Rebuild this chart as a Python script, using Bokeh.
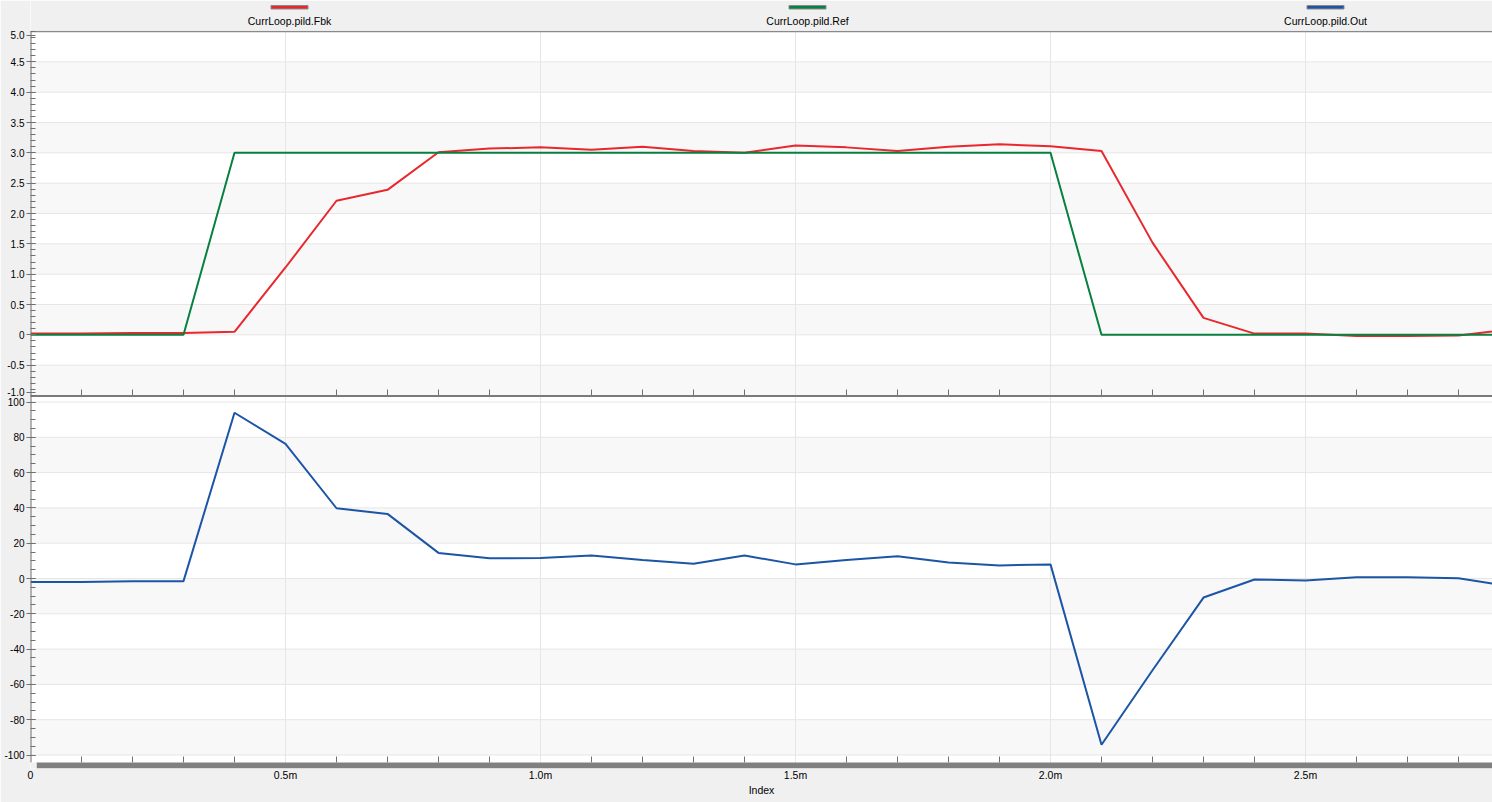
from bokeh.plotting import figure
from bokeh.models import Range1d, FixedTicker
from bokeh.core.properties import value
from bokeh.embed import file_html
from bokeh.resources import INLINE

# ---------------- data ----------------
index_ms = [0.0, 0.1, 0.2, 0.3, 0.4, 0.5, 0.6, 0.7, 0.8, 0.9,
            1.0, 1.1, 1.2, 1.3, 1.4, 1.5, 1.6, 1.7, 1.8, 1.9,
            2.0, 2.1, 2.2, 2.3, 2.4, 2.5, 2.6, 2.7, 2.8, 2.9]
fbk = [0.02, 0.02, 0.03, 0.03, 0.05, 1.11, 2.21, 2.39, 3.01, 3.07,
       3.09, 3.05, 3.10, 3.03, 3.00, 3.12, 3.09, 3.03, 3.10, 3.14,
       3.11, 3.03, 1.52, 0.28, 0.02, 0.02, -0.02, -0.02, -0.01, 0.09]
ref = [0.0, 0.0, 0.0, 0.0, 3.0, 3.0, 3.0, 3.0, 3.0, 3.0,
       3.0, 3.0, 3.0, 3.0, 3.0, 3.0, 3.0, 3.0, 3.0, 3.0,
       3.0, 0.0, 0.0, 0.0, 0.0, 0.0, 0.0, 0.0, 0.0, 0.0]
out = [-2.0, -2.0, -1.5, -1.5, 93.9, 76.3, 39.8, 36.6, 14.5, 11.5,
       11.6, 13.0, 10.5, 8.4, 13.0, 8.0, 10.5, 12.6, 9.1, 7.4,
       8.0, -94.2, -52.0, -10.8, -0.6, -1.1, 0.7, 0.7, 0.2, -4.5]

series_names = ["CurrLoop.pild.Fbk", "CurrLoop.pild.Ref", "CurrLoop.pild.Out"]
series_colors = ["#E8282D", "#08803F", "#1C55A6"]

x_tick_values = [0.0, 0.5, 1.0, 1.5, 2.0, 2.5]
x_tick_labels = ["0", "0.5m", "1.0m", "1.5m", "2.0m", "2.5m"]
top_tick_values = [5.0, 4.5, 4.0, 3.5, 3.0, 2.5, 2.0, 1.5, 1.0, 0.5, 0.0, -0.5, -1.0]
top_tick_labels = ["5.0", "4.5", "4.0", "3.5", "3.0", "2.5", "2.0", "1.5", "1.0", "0.5", "0", "-0.5", "-1.0"]
bot_tick_values = [100, 80, 60, 40, 20, 0, -20, -40, -60, -80, -100]
bot_tick_labels = ["100", "80", "60", "40", "20", "0", "-20", "-40", "-60", "-80", "-100"]

# ---------------- layout (page pixels) ----------------
W, H = 1492, 802
FX0, FX1 = 30, 1492        # frame left/right (page x)
FY0, FY1 = 0, 768          # frame top/bottom (page y)
PX_PER_X = 510.0
TOP_Y0, TOP_Y1 = 31, 395   # upper panel
TOP_MIN, TOP_MAX = -1.0, 5.0
BOT_Y0, BOT_Y1 = 396, 762  # lower panel
BOT_ZERO, BOT_PPU = 578.0, 1.765
TOP_PPU = (TOP_Y1 - TOP_Y0) / (TOP_MAX - TOP_MIN)
XMAX = (FX1 - FX0) / PX_PER_X

FONT = "Liberation Sans"
GRID = "#e6e6e6"
BAND = "#f8f8f8"
TICK = "#707070"


def top_px(v):
    return TOP_Y0 + (TOP_MAX - v) * TOP_PPU


def bot_px(v):
    return BOT_ZERO - v * BOT_PPU


def xpx(px):
    return (px - FX0) / PX_PER_X


p = figure(width=W, height=H, x_range=Range1d(0, XMAX), y_range=Range1d(FY1, FY0),
           output_backend="svg", toolbar_location=None,
           min_border_left=FX0, min_border_right=0, min_border_top=FY0,
           min_border_bottom=H - FY1)
p.extra_y_ranges = {
    "top": Range1d(TOP_MAX - (FY1 - TOP_Y0) / TOP_PPU, TOP_MAX + (TOP_Y0 - FY0) / TOP_PPU),
    "bot": Range1d(-(FY1 - BOT_ZERO) / BOT_PPU, (BOT_ZERO - FY0) / BOT_PPU),
}
p.outline_line_color = None
p.background_fill_color = "white"
p.border_fill_color = "#f0f0f0"
p.xgrid.visible = False
p.ygrid.visible = False

# alternating bands
tb = [-1.0, 0.0, 1.0, 2.0, 3.0, 4.0]
p.quad(left=0, right=XMAX, bottom=tb, top=[b + 0.5 for b in tb], y_range_name="top",
       fill_color=BAND, line_color=None)
bb = [-100, -60, -20, 20, 60]
p.quad(left=0, right=XMAX, bottom=bb, top=[b + 20 for b in bb], y_range_name="bot",
       fill_color=BAND, line_color=None)

# horizontal grid
tg = [-0.5 + 0.5 * k for k in range(11)]
p.segment(x0=0, x1=XMAX, y0=tg, y1=tg, y_range_name="top", line_color=GRID, line_width=1)
bg = [-100 + 20 * k for k in range(11)]
p.segment(x0=0, x1=XMAX, y0=bg, y1=bg, y_range_name="bot", line_color=GRID, line_width=1)
# vertical grid
vg = [0.5, 1.0, 1.5, 2.0, 2.5]
p.segment(x0=vg, x1=vg, y0=TOP_Y0, y1=BOT_Y1, line_color=GRID, line_width=1)

# x minor ticks at the bottom of both panels
mx = [k / 10 for k in range(1, 29) if k % 5 != 0]
p.segment(x0=mx, x1=mx, y0=TOP_Y1 - 6, y1=TOP_Y1, line_color=TICK, line_width=1)
p.segment(x0=mx, x1=mx, y0=BOT_Y1 - 6, y1=BOT_Y1, line_color=TICK, line_width=1)

# data
p.line(index_ms, fbk, y_range_name="top", line_color=series_colors[0], line_width=2)
p.line(index_ms, ref, y_range_name="top", line_color=series_colors[1], line_width=2)
p.line(index_ms, out, y_range_name="bot", line_color=series_colors[2], line_width=2)

# borders
p.segment(x0=0, x1=XMAX, y0=TOP_Y0, y1=TOP_Y0, line_color="#8a8a8a", line_width=1.5)
p.segment(x0=0, x1=XMAX, y0=TOP_Y1 + 0.5, y1=TOP_Y1 + 0.5, line_color="#7a7a7a", line_width=2)
p.segment(x0=0, x1=0, y0=TOP_Y0, y1=BOT_Y1, line_color="#6a6a6a", line_width=2)

# legend strip
p.quad(left=0, right=XMAX, top=FY0, bottom=TOP_Y0 - 0.75, fill_color="#f0f0f0", line_color=None)
leg_cx = [xpx(289), xpx(807), xpx(1325)]
half = 18.5 / PX_PER_X
p.quad(left=[c - half for c in leg_cx], right=[c + half for c in leg_cx],
       top=5, bottom=8.5, fill_color=series_colors, line_color="#8a8a8a", line_width=1)
p.text(x=leg_cx, y=[20.5] * 3, text=series_names, text_align="center", text_baseline="middle",
       text_font=value(FONT), text_font_size="10.5px", text_color="#000000")

# scrollbar
p.quad(left=xpx(36), right=XMAX, top=BOT_Y1, bottom=FY1, fill_color="#808080", line_color=None)
p.quad(left=0, right=xpx(36), top=BOT_Y1, bottom=FY1, fill_color="#f0f0f0", line_color=None)

# y axis (labels + ticks in page-pixel space)
major_px, overrides = [], {}
for v, lab in zip(top_tick_values, top_tick_labels):
    y = min(max(top_px(v), TOP_Y0 + 3.5), TOP_Y1 - 3.5)
    y = round(y, 3)
    major_px.append(y)
    overrides[y] = lab
for v, lab in zip(bot_tick_values, bot_tick_labels):
    y = round(bot_px(v), 3)
    major_px.append(y)
    overrides[y] = lab
minor_px = [round(top_px(-1.0 + 0.1 * k), 3) for k in range(61)] + \
           [round(bot_px(-100 + 5 * k), 3) for k in range(41)]
yax = p.yaxis[0]
yax.ticker = FixedTicker(ticks=major_px, minor_ticks=minor_px)
yax.major_label_overrides = overrides
yax.axis_line_color = None
yax.major_tick_in = 5
yax.major_tick_out = 4
yax.minor_tick_in = 5
yax.minor_tick_out = 0
yax.major_tick_line_color = TICK
yax.minor_tick_line_color = TICK
yax.major_label_standoff = 2
yax.major_label_text_font = FONT
yax.major_label_text_font_size = "10px"
yax.major_label_text_color = "#000000"

# x axis
xax = p.xaxis[0]
xax.ticker = FixedTicker(ticks=x_tick_values)
xax.major_label_overrides = dict(zip(x_tick_values, x_tick_labels))
xax.axis_line_color = None
xax.major_tick_line_color = None
xax.minor_tick_line_color = None
xax.major_tick_out = 0
xax.major_tick_in = 0
xax.major_label_standoff = 0
xax.major_label_text_font = FONT
xax.major_label_text_font_size = "10.5px"
xax.major_label_text_color = "#000000"
xax.axis_label = "Index"
xax.axis_label_standoff = 0
xax.axis_label_text_font = FONT
xax.axis_label_text_font_size = "10.5px"
xax.axis_label_text_font_style = "normal"
xax.axis_label_text_color = "#000000"

open("out.html", "w").write(file_html(p, INLINE))
